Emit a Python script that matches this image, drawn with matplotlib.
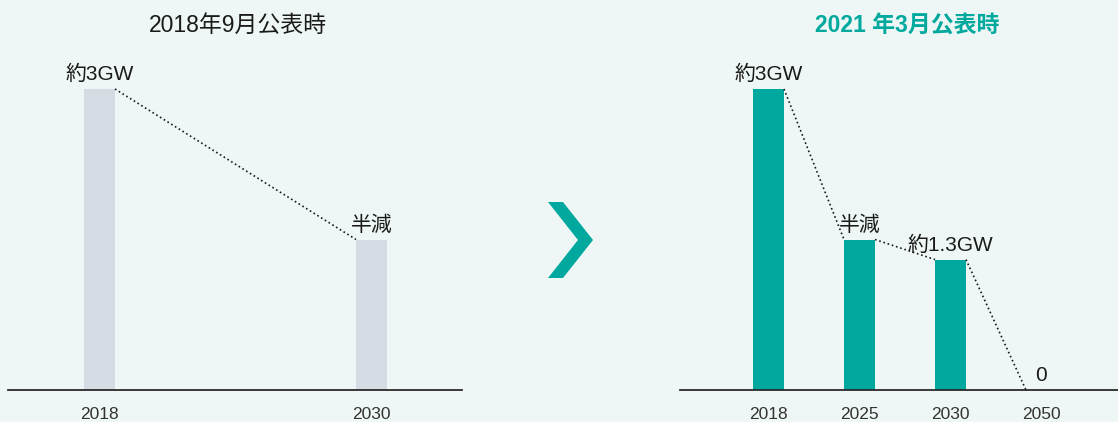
import matplotlib
matplotlib.use("Agg")
import matplotlib.pyplot as plt
from matplotlib.patches import Polygon

plt.rcParams['font.family'] = ['Liberation Sans', 'Noto Sans CJK JP']

# --- data ---
old_title = "2018年9月公表時"
old_years = ["2018", "2030"]
old_values = [3.0, 1.5]
old_labels = ["約3GW", "半減"]

new_title = "2021 年3月公表時"
new_years = ["2018", "2025", "2030", "2050"]
new_values = [3.0, 1.5, 1.3, 0.0]
new_labels = ["約3GW", "半減", "約1.3GW", "0"]

BG = "#eef7f5"
TEAL = "#00a89d"
GRAY = "#d5dce3"
INK = "#1a1a1a"

W, H = 1118, 422
fig = plt.figure(figsize=(W / 100, H / 100), dpi=100, facecolor=BG)


def px_axes(x0, x1, y_top, y_base):
    return fig.add_axes([x0 / W, (H - y_base) / H, (x1 - x0) / W, (y_base - y_top) / H])


def draw_panel(ax, years, values, labels, color, width, xlim):
    ax.set_facecolor("none")
    pos = list(range(len(years)))
    ax.bar(pos, values, width=width, color=color, zorder=2)
    # dotted connectors from each bar's top-right to the next bar's top-left
    for i in range(len(pos) - 1):
        ax.plot([pos[i] + width / 2, pos[i + 1] - width / 2],
                [values[i], values[i + 1]],
                linestyle=":", color=INK, linewidth=1.2, zorder=3,
                clip_on=False)
    for p, v, t in zip(pos, values, labels):
        ax.annotate(t, (p, v), xytext=(0, 3.5), textcoords="offset points",
                    ha="center", va="bottom", fontsize=15, color=INK,
                    annotation_clip=False)
    ax.set_xlim(*xlim)
    ax.set_ylim(0, 3.0)
    ax.set_xticks(pos)
    ax.set_xticklabels(years, fontsize=12.5, color="#333333")
    ax.tick_params(axis="x", length=0, pad=12.5)
    ax.set_yticks([])
    for s in ("top", "right", "left"):
        ax.spines[s].set_visible(False)
    ax.spines["bottom"].set_color("#2a2a2a")
    ax.spines["bottom"].set_linewidth(1.3)


# left panel: 2 bars, centers at 99.5px and 371.5px
ax1 = px_axes(8, 462, 89, 390)
u1 = 272.0
draw_panel(ax1, old_years, old_values, old_labels, GRAY, 31 / u1,
           (-(99.5 - 8) / u1, 1 + (462 - 371.5) / u1))

# right panel: 4 bars, 91px apart starting at 768.5px
ax2 = px_axes(680, 1118, 89, 390)
u2 = 91.0
draw_panel(ax2, new_years, new_values, new_labels, TEAL, 31 / u2,
           (-(768.5 - 680) / u2, 3 + (1118 - 1041.5) / u2))

fig.text(238 / W, 1 - 25 / H, old_title, ha="center", va="center",
         fontsize=16.5, color=INK)
fig.text(907 / W, 1 - 25 / H, new_title, ha="center", va="center",
         fontsize=16.5, color=TEAL, fontweight="bold")

# chevron arrow between the panels
chev = [(548, 202), (563, 202), (593, 240), (563, 278), (548, 278), (578, 240)]
fig.patches.append(Polygon([(x / W, 1 - y / H) for x, y in chev], closed=True,
                           transform=fig.transFigure, facecolor=TEAL,
                           edgecolor="none", figure=fig))

fig.savefig("out.png", dpi=100, facecolor=BG)
